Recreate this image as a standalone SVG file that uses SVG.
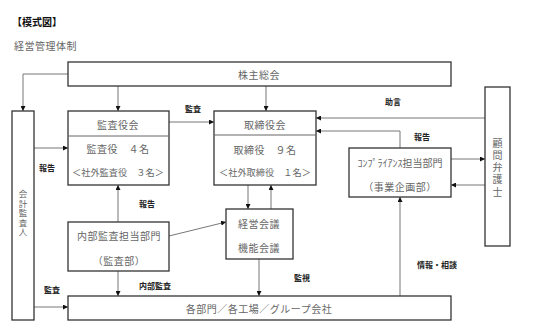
<svg xmlns="http://www.w3.org/2000/svg" width="533" height="333" viewBox="0 0 533 333">
<defs>
<marker id="ah" viewBox="0 0 6 6" refX="6" refY="3" markerWidth="5" markerHeight="5" orient="auto" markerUnits="userSpaceOnUse">
<path d="M0,0 L6,3 L0,6 Z" fill="#111"/>
</marker>
<style>
.box{fill:#fff;stroke:#333;stroke-width:1.3}
.div{stroke:#666;stroke-width:1}
.t{font-family:"Noto Sans CJK JP","Liberation Sans",sans-serif;font-size:10px;fill:#666;text-anchor:middle;dominant-baseline:central;letter-spacing:0.5px}
.v{font-family:"Noto Sans CJK JP","Liberation Sans",sans-serif;fill:#666;text-anchor:middle;writing-mode:vertical-rl}
.lb{font-family:"Noto Sans CJK JP","Liberation Sans",sans-serif;font-size:8px;font-weight:bold;fill:#222;text-anchor:middle;dominant-baseline:central}
.c{fill:none;stroke:#777;stroke-width:1;marker-end:url(#ah)}
</style>
</defs>
<rect width="533" height="333" fill="#fff"/>
<text x="12" y="21" style="font-family:'Noto Sans CJK JP',sans-serif;font-size:10px;font-weight:bold;fill:#111;dominant-baseline:central">【模式図】</text>
<text x="14" y="45" style="font-family:'Noto Sans CJK JP',sans-serif;font-size:10px;fill:#666;dominant-baseline:central;letter-spacing:0.5px">経営管理体制</text>

<g id="connectors">
<polyline class="c" points="68,74 23,74 23,111"/>
<line class="c" x1="118" y1="86" x2="118" y2="111"/>
<line class="c" x1="266" y1="86" x2="266" y2="111"/>
<line class="c" x1="169" y1="122" x2="214" y2="122"/>
<line class="c" x1="34" y1="148" x2="68" y2="148"/>
<line class="c" x1="118" y1="222" x2="118" y2="185"/>
<line class="c" x1="118" y1="271" x2="118" y2="296"/>
<line class="c" x1="34" y1="307" x2="68" y2="307"/>
<line class="c" x1="248" y1="185" x2="248" y2="209"/>
<line class="c" x1="271" y1="209" x2="271" y2="185"/>
<line class="c" x1="169" y1="236" x2="226" y2="222"/>
<line class="c" x1="259" y1="259" x2="259" y2="296"/>
<polyline class="c" points="400,148 400,131 316,131"/>
<line class="c" x1="485" y1="118" x2="316" y2="118"/>
<line class="c" x1="451" y1="159" x2="485" y2="159"/>
<line class="c" x1="485" y1="185" x2="451" y2="185"/>
<line class="c" x1="400" y1="296" x2="400" y2="197"/>
<text class="lb" x="193" y="108">監査</text>
<text class="lb" x="47" y="167">報告</text>
<text class="lb" x="147" y="203">報告</text>
<text class="lb" x="155" y="285">内部監査</text>
<text class="lb" x="52" y="289">監査</text>
<text class="lb" x="302" y="277">監視</text>
<text class="lb" x="422" y="136">報告</text>
<text class="lb" x="393" y="101">助言</text>
<text class="lb" x="437" y="264">情報・相談</text>
</g>

<g id="kabunushi">
<rect class="box" x="68" y="62" width="383" height="24"/>
<text class="t" x="259" y="74">株主総会</text>
</g>
<g id="kaikei">
<rect class="box" x="12" y="111" width="22" height="209"/>
<text class="v" x="23" y="213.5" style="font-size:8.5px;letter-spacing:1px">会計監査人</text>
</g>
<g id="kansayakukai">
<rect class="box" x="68" y="111" width="101" height="74"/>
<line class="div" x1="68" y1="136" x2="169" y2="136"/>
<text class="t" x="118" y="124">監査役会</text>
<text class="t" x="118" y="148">監査役　４名</text>
<text class="t" x="118" y="172" style="letter-spacing:0;font-size:9.2px">＜社外監査役　３名＞</text>
</g>
<g id="torishimariyakukai">
<rect class="box" x="214" y="111" width="102" height="74"/>
<line class="div" x1="214" y1="135" x2="316" y2="135"/>
<text class="t" x="265" y="124">取締役会</text>
<text class="t" x="265" y="149">取締役　９名</text>
<text class="t" x="265" y="172" style="letter-spacing:0;font-size:9.2px">＜社外取締役　１名＞</text>
</g>
<g id="naibukansa">
<rect class="box" x="68" y="222" width="101" height="49"/>
<text class="t" x="119" y="235">内部監査担当部門</text>
<text class="t" x="119" y="260">（監査部）</text>
</g>
<g id="keieikaigi">
<rect class="box" x="226" y="209" width="67" height="50"/>
<text class="t" x="259" y="223">経営会議</text>
<text class="t" x="259" y="247">機能会議</text>
</g>
<g id="compliance">
<rect class="box" x="349" y="148" width="102" height="49"/>
<text class="t" x="400" y="162" style="letter-spacing:0">ｺﾝﾌﾟﾗｲｱﾝｽ担当部門</text>
<text class="t" x="400" y="186">（事業企画部）</text>
</g>
<g id="komon">
<rect class="box" x="485" y="87" width="25" height="159"/>
<text class="v" x="497.5" y="168.5" style="font-size:10px;letter-spacing:2.3px">顧問弁護士</text>
</g>
<g id="kakubumon">
<rect class="box" x="68" y="296" width="383" height="24"/>
<text class="t" x="259" y="308">各部門／各工場／グループ会社</text>
</g>
</svg>
